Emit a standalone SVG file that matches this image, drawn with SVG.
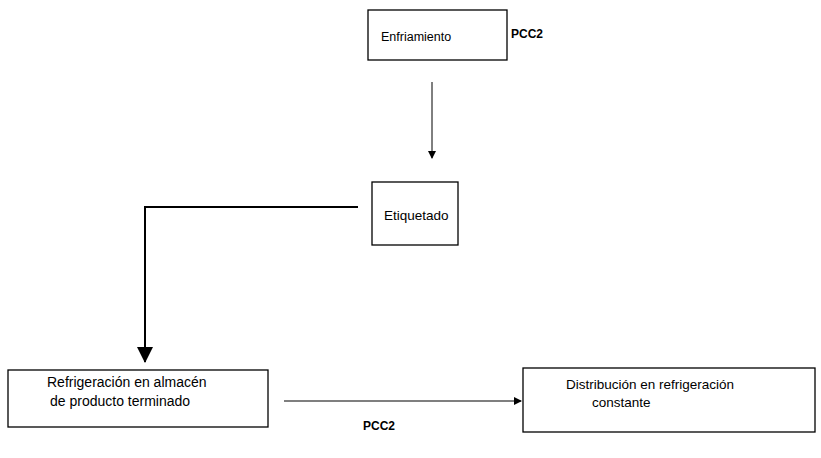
<svg xmlns="http://www.w3.org/2000/svg" width="821" height="458" viewBox="0 0 821 458">
<defs>
<style>
.box{fill:#fff;stroke:#000;stroke-width:1.3}
.t{font-family:"Liberation Sans",Arial,sans-serif;font-size:13.5px;fill:#000}
.b{font-family:"Liberation Sans",Arial,sans-serif;font-size:12px;font-weight:bold;fill:#000}
.c{fill:none;stroke:#000}
</style>
<marker id="ah" markerWidth="8" markerHeight="8" refX="7" refY="4" orient="auto" markerUnits="userSpaceOnUse"><path d="M0,0 L8,4 L0,8 Z" fill="#000"/></marker>
<marker id="ahb" markerWidth="16" markerHeight="16" refX="15" refY="8" orient="auto" markerUnits="userSpaceOnUse"><path d="M0,0 L16,8 L0,16 Z" fill="#000"/></marker>
</defs>
<rect width="821" height="458" fill="#fff"/>
<g id="connectors">
<line class="c" x1="432" y1="82" x2="432" y2="158" stroke-width="1" marker-end="url(#ah)"/>
<polyline class="c" points="358,207 145,207 145,362" stroke-width="2" marker-end="url(#ahb)"/>
<line class="c" x1="284" y1="401" x2="521" y2="401" stroke-width="1.2" marker-end="url(#ah)"/>
</g>
<g id="enfriamiento">
<rect class="box" x="368" y="10" width="139" height="50"/>
<text class="t" x="381" y="41" style="font-size:12.5px">Enfriamiento</text>
</g>
<text id="pcc2-top" class="b" x="511" y="38">PCC2</text>
<g id="etiquetado">
<rect class="box" x="372" y="182" width="86" height="63"/>
<text class="t" x="384" y="220">Etiquetado</text>
</g>
<g id="refrigeracion">
<rect class="box" x="8" y="370" width="260" height="57"/>
<text class="t" x="47" y="387" style="font-size:14px">Refrigeración en almacén</text>
<text class="t" x="50" y="406" style="font-size:14px">de producto terminado</text>
</g>
<g id="distribucion">
<rect class="box" x="523" y="368" width="292" height="64"/>
<text class="t" x="566" y="389">Distribución en refrigeración</text>
<text class="t" x="592" y="407">constante</text>
</g>
<text id="pcc2-bottom" class="b" x="363" y="430">PCC2</text>
</svg>
